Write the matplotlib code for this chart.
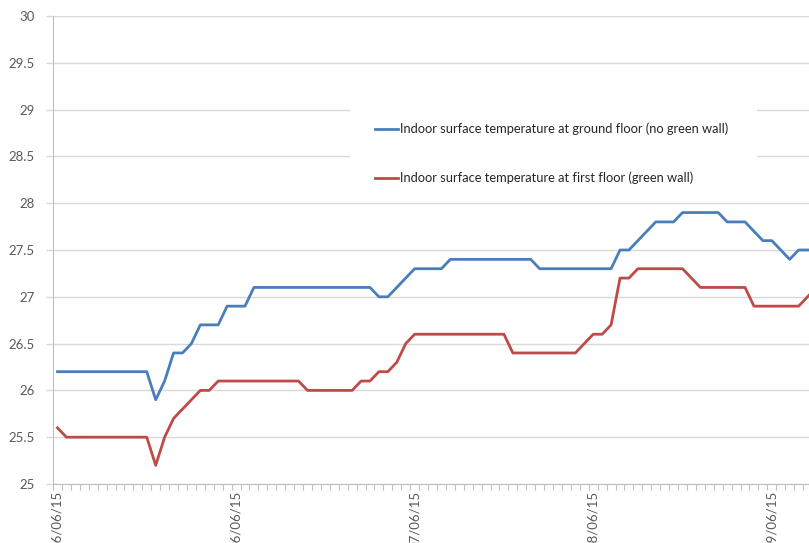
import numpy as np
import matplotlib
matplotlib.use("Agg")
import matplotlib.pyplot as plt
from matplotlib.patches import Rectangle

plt.rcParams['font.family'] = ['Lato', 'DejaVu Sans']

# hourly readings (index = hour from start)
ground_floor = ([26.2] * 11 + [25.9, 26.1, 26.4, 26.4, 26.5] + [26.7] * 3 + [26.9] * 3
                + [27.1] * 14 + [27.0, 27.0, 27.1, 27.2] + [27.3] * 4 + [27.4] * 10
                + [27.3] * 9 + [27.5, 27.5, 27.6, 27.7] + [27.8] * 3 + [27.9] * 5
                + [27.8] * 3 + [27.7, 27.6, 27.6, 27.5, 27.4, 27.5, 27.5, 27.5])
first_floor = ([25.6] + [25.5] * 10 + [25.2, 25.5, 25.7, 25.8, 25.9, 26.0, 26.0]
               + [26.1] * 10 + [26.0] * 6 + [26.1, 26.1, 26.2, 26.2, 26.3, 26.5]
               + [26.6] * 11 + [26.4] * 8 + [26.5, 26.6, 26.6, 26.7, 27.2, 27.2]
               + [27.3] * 6 + [27.2] + [27.1] * 6 + [26.9] * 6 + [27.0, 27.1])
hours = np.arange(len(ground_floor))

date_ticks = [0, 20, 40, 60, 80]
date_labels = ["06/06/15", "06/06/15", "07/06/15", "08/06/15", "09/06/15"]

label_ground = "Indoor surface temperature at ground floor (no green wall)"
label_first = "Indoor surface temperature at first floor (green wall)"

txt = "#595959"
grid = "#d9d9d9"

fig = plt.figure(figsize=(8.09, 5.43), dpi=100)
ax = fig.add_axes([53 / 809, 59 / 543, 772.4 / 809, 468 / 543])

ax.plot(hours, ground_floor, color="#4a7ebb", lw=2.0, solid_joinstyle="round",
        label=label_ground, zorder=3)
ax.plot(hours, first_floor, color="#be4b48", lw=2.0, solid_joinstyle="round",
        label=label_first, zorder=3)

ax.set_xlim(-0.5, 86)
ax.set_ylim(25, 30)
ax.set_yticks(np.arange(25, 30.01, 0.5))
ax.set_yticklabels(["25", "25.5", "26", "26.5", "27", "27.5", "28", "28.5", "29", "29.5", "30"])
ax.grid(axis="y", color=grid, lw=1)
ax.set_axisbelow(True)

ax.set_xticks(date_ticks)
ax.set_xticklabels(date_labels, rotation=90, va="top", ha="center")
ax.set_xticks(np.arange(-0.5, 86, 1), minor=True)
ax.tick_params(axis="x", which="major", length=0, pad=5, labelsize=9.5, labelcolor=txt)
ax.tick_params(axis="x", which="minor", length=4, color="#bfbfbf", width=0.8)
ax.tick_params(axis="y", length=5, color=grid, width=1, pad=8, labelsize=9.5, labelcolor=txt)

for s in ["top", "right"]:
    ax.spines[s].set_visible(False)
ax.spines["left"].set_color("#bfbfbf")
ax.spines["bottom"].set_color("#bfbfbf")

# white legend area hides the gridlines behind it
ax.add_patch(Rectangle((0.3845, 0.613), 0.527, 0.2075, transform=ax.transAxes,
                       facecolor="white", edgecolor="none", zorder=1))
leg = ax.legend(loc="center left", bbox_to_anchor=((375 - 53) / 772.4, (484 - 153.5) / 468),
                frameon=False, borderpad=0, borderaxespad=0, fontsize=9.3,
                handlelength=1.8, handletextpad=0.15, labelspacing=2.85,
                labelcolor="#262626")

fig.savefig("out.png", dpi=100)
